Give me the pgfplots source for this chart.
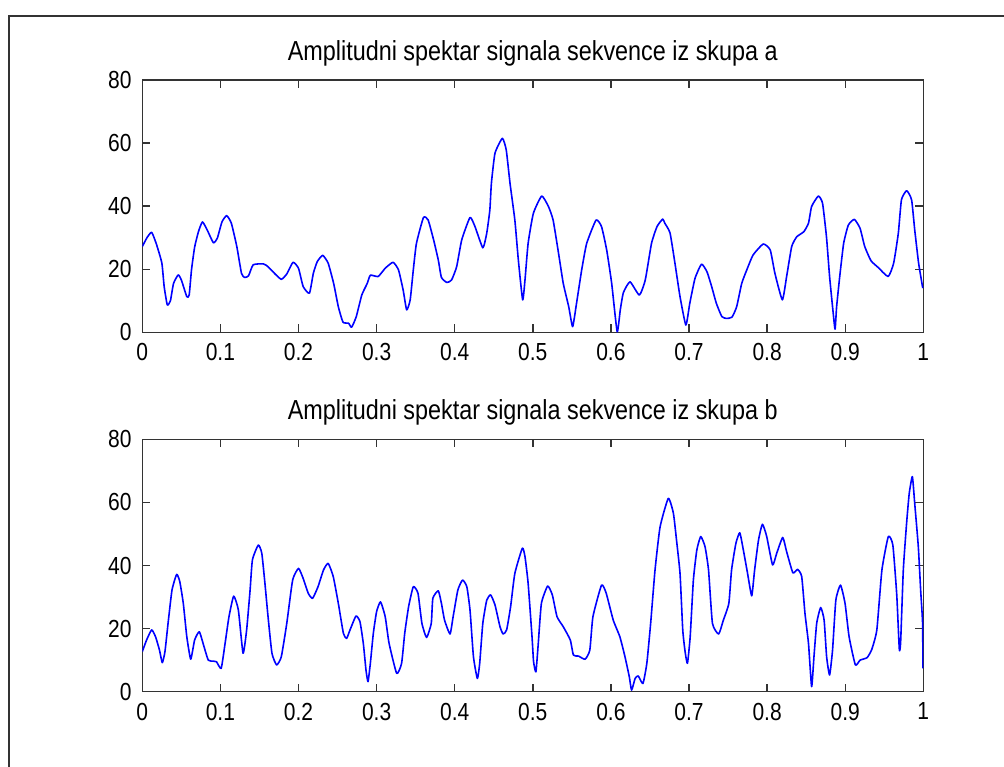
\documentclass[border=0pt]{standalone}
\usepackage{fontspec}
\setmainfont[FakeStretch=0.85]{Liberation Sans}
\usepackage{pgfplots}
\pgfplotsset{compat=1.18}
\begin{document}
\begin{tikzpicture}
\useasboundingbox (0pt,0pt) rectangle (1004pt,-767pt);
\draw[line width=2pt, black!80] (9pt,-767pt) -- (9pt,-16pt) -- (1004pt,-16pt);
\pgfplotsset{
  myax/.style={
    scale only axis, width=781pt, height=252.3pt,
    xmin=0, xmax=1, ymin=0, ymax=80,
    xtick={0,0.1,0.2,0.3,0.4,0.5,0.6,0.7,0.8,0.9,1},
    xticklabels={0,0.1,0.2,0.3,0.4,0.5,0.6,0.7,0.8,0.9,1},
    ytick={0,20,40,60,80},
    yticklabels={0,20,40,60,80},
    tick align=inside, xtick pos=both, ytick pos=both,
    xticklabel pos=left, yticklabel pos=left,
    major tick length=8pt,
    axis line style={draw=black!80, line width=1.4pt},
    every tick/.style={draw=black!80, line width=1.4pt},
    ticklabel style={font=\fontsize{24.7}{27}\selectfont, text=black},
    xticklabel style={anchor=north, inner sep=0pt, yshift=-11pt},
    yticklabel style={anchor=east, inner sep=0pt, xshift=-10.6pt},
    title style={at={(0.5,1)}, anchor=base, yshift=14pt, font=\fontsize{27.5}{30}\selectfont, text=black},
  },
  myline/.style={draw={rgb,255:red,0;green,0;blue,255}, line width=1.6pt, line join=round, mark=none, smooth, tension=0.3},
}
\begin{axis}[myax, at={(142.3pt,-332.3pt)}, anchor=south west,
  title={Amplitudni spektar signala sekvence iz skupa a}]
\addplot[myline] coordinates {
(0,27.2)(0.006,30)(0.012,31.7)(0.018,28)(0.025,22)(0.028,14.5)(0.032,8.7)(0.036,10)
(0.040,15.5)(0.046,18.2)(0.050,16.6)(0.057,11.3)(0.060,11.8)(0.063,19.8)(0.067,27)
(0.072,32)(0.077,35)(0.083,32.5)(0.091,28.4)(0.096,29.8)(0.102,35)(0.108,37)
(0.114,34.6)(0.121,27.2)(0.127,18.7)(0.131,17.4)(0.136,17.9)(0.142,21.4)(0.155,21.7)
(0.161,20.8)(0.170,18.5)(0.178,16.8)(0.185,18.5)(0.193,22.2)(0.200,20.3)(0.206,14.5)
(0.214,12.4)(0.219,18.7)(0.224,22.4)(0.231,24.4)(0.238,21.9)(0.245,15.5)(0.251,8.1)
(0.257,3.2)(0.264,2.9)(0.268,1.6)(0.274,5)(0.281,11.8)(0.288,15.5)(0.292,18.1)
(0.302,17.7)(0.311,20.3)(0.321,22.2)(0.328,19.8)(0.334,13.4)(0.3385,7.1)(0.343,10.3)
(0.347,19.8)(0.351,28.2)(0.360,36.4)(0.366,35.6)(0.373,29.3)(0.379,22.9)(0.383,17.4)
(0.390,15.8)(0.396,16.6)(0.4025,20.8)(0.409,29.3)(0.4196,36.4)(0.426,33.5)(0.436,26.8)
(0.441,31.4)(0.445,38.8)(0.447,47.3)(0.4516,56.8)(0.461,61.5)(0.466,57.8)(0.4708,47.3)
(0.477,35.6)(0.4815,22.9)(0.487,10.3)(0.490,16.6)(0.494,28.2)(0.5007,37.7)(0.5114,43.2)
(0.520,39.9)(0.526,35.6)(0.533,25)(0.539,15.5)(0.546,8.1)(0.551,1.8)(0.556,9.2)
(0.5626,19.8)(0.569,28.2)(0.581,35.6)(0.588,33.5)(0.5946,26.1)(0.601,15.5)(0.608,0.2)
(0.612,7.1)(0.616,12.6)(0.6245,16)(0.6364,11.8)(0.644,16.6)(0.652,28.2)(0.659,33.5)
(0.6663,35.9)(0.669,34.6)(0.6757,31.5)(0.682,21.9)(0.6885,11.3)(0.696,2.3)(0.701,9.2)
(0.7077,17.1)(0.716,21.6)(0.723,19.2)(0.729,14.5)(0.735,9.2)(0.742,5)(0.748,4.4)
(0.755,4.8)(0.761,8.1)(0.7675,15.5)(0.774,19.8)(0.782,24.5)(0.795,28)(0.804,26.1)
(0.810,18.7)(0.8195,10.3)(0.825,17.7)(0.8315,27.2)(0.838,30.3)(0.847,31.9)(0.853,34.6)
(0.857,39.9)(0.8656,43.2)(0.871,40.9)(0.876,30.3)(0.880,17.7)(0.884,7.6)(0.887,1)
(0.889,8.1)(0.893,17.7)(0.898,28.2)(0.904,34)(0.9117,35.8)(0.919,33)(0.925,27.2)
(0.933,22.7)(0.942,20.6)(0.955,17.7)(0.962,21.9)(0.968,31.4)(0.972,42)(0.9787,44.9)
(0.985,42)(0.989,32.5)(0.994,21.9)(0.9993,14)
};
\end{axis}
\begin{axis}[myax, at={(142.3pt,-691.7pt)}, anchor=south west,
  title={Amplitudni spektar signala sekvence iz skupa b}]
\addplot[myline] coordinates {
(0,12.7)(0.0055,16.4)(0.012,19.6)(0.017,17.4)(0.022,13.2)(0.0256,9.2)(0.029,12.7)
(0.033,21.7)(0.038,32.2)(0.044,37.2)(0.048,34.9)(0.0525,28)(0.057,17.4)(0.062,10.3)
(0.067,16.4)(0.073,19)(0.079,14.3)(0.0845,10)(0.091,9.7)(0.095,9.5)(0.101,7.4)
(0.106,15.3)(0.111,23.8)(0.117,30.3)(0.123,25.9)(0.129,12.2)(0.1336,19.6)(0.138,32.2)
(0.141,41.8)(0.1485,46.5)(0.153,43.9)(0.157,34.4)(0.161,23.8)(0.166,12.2)(0.172,8.5)
(0.178,11.1)(0.185,21.7)(0.1925,35.4)(0.2,39.1)(0.206,35.9)(0.2125,31.2)(0.218,29.6)
(0.225,33.3)(0.232,38.6)(0.238,40.7)(0.2445,36.5)(0.251,28)(0.2575,18.5)(0.2616,16.9)
(0.266,19.6)(0.2736,24)(0.2787,22.2)(0.283,15.3)(0.2864,6.9)(0.289,3.2)(0.292,9)
(0.2958,18.5)(0.300,25.4)(0.305,28.5)(0.311,23.8)(0.316,15.3)(0.3257,5.8)(0.332,9)
(0.336,18.5)(0.341,27)(0.347,33.3)(0.353,31.2)(0.358,21.7)(0.364,17.2)(0.370,21.7)
(0.372,29.6)(0.379,32)(0.383,28)(0.387,22.7)(0.394,18.3)(0.398,23.8)(0.404,32.2)
(0.410,35.4)(0.4155,33.3)(0.4196,25.9)(0.424,11.1)(0.429,4.2)(0.432,9)(0.436,21.7)
(0.441,29)(0.446,30.7)(0.4516,27.5)(0.458,20.6)(0.462,18.3)(0.4665,19.6)(0.4716,27)
(0.477,37.5)(0.4866,45.5)(0.490,42.8)(0.494,34.4)(0.499,17.4)(0.501,9.5)(0.504,6.3)
(0.507,15.3)(0.511,28)(0.519,33.5)(0.525,30.7)(0.531,23.8)(0.539,20.6)(0.548,16.4)
(0.552,11.6)(0.5585,11.3)(0.567,10.3)(0.573,13.2)(0.577,23.8)(0.588,33.8)(0.594,31.2)
(0.603,22.7)(0.6115,17.4)(0.618,11.1)(0.6235,4.8)(0.6265,0.5)(0.631,4.2)(0.635,5)
(0.641,2.6)(0.646,9)(0.6509,21.7)(0.6565,38.6)(0.663,52.3)(0.6735,61.3)(0.680,56.6)
(0.684,48.1)(0.6885,37.5)(0.692,19.6)(0.695,12.7)(0.698,9)(0.7015,17.4)(0.7056,35.4)
(0.710,44.9)(0.715,49.2)(0.7205,46)(0.725,38.6)(0.730,21.7)(0.738,18.3)(0.744,22.7)
(0.751,28)(0.7545,38.6)(0.760,47)(0.765,50.4)(0.7696,44.9)(0.775,37.5)(0.7803,30.4)
(0.784,38.6)(0.789,48.1)(0.794,53.1)(0.7995,49.2)(0.807,40.2)(0.8123,43.9)(0.82,48.9)
(0.825,44.4)(0.833,37.7)(0.839,38.8)(0.8443,36.5)(0.8485,24.8)(0.853,15.3)(0.857,1.6)
(0.86,11.1)(0.8635,21.7)(0.8686,26.7)(0.873,22.7)(0.8762,11.1)(0.880,5.3)(0.8838,13.2)
(0.888,29)(0.894,33.8)(0.8998,28)(0.905,17.4)(0.913,8.5)(0.919,10)(0.928,10.8)
(0.934,13.4)(0.9405,19.6)(0.947,38.6)(0.9552,49.2)(0.961,46.5)(0.966,30.7)(0.9693,13.4)
(0.971,15.9)(0.9744,38.6)(0.9786,53.4)(0.982,62.9)(0.986,68.2)(0.989,59.7)(0.9936,46)
(0.9966,32.2)(0.9991,21.7)(0.9995,7.4)
};
\end{axis}
\end{tikzpicture}
\end{document}
